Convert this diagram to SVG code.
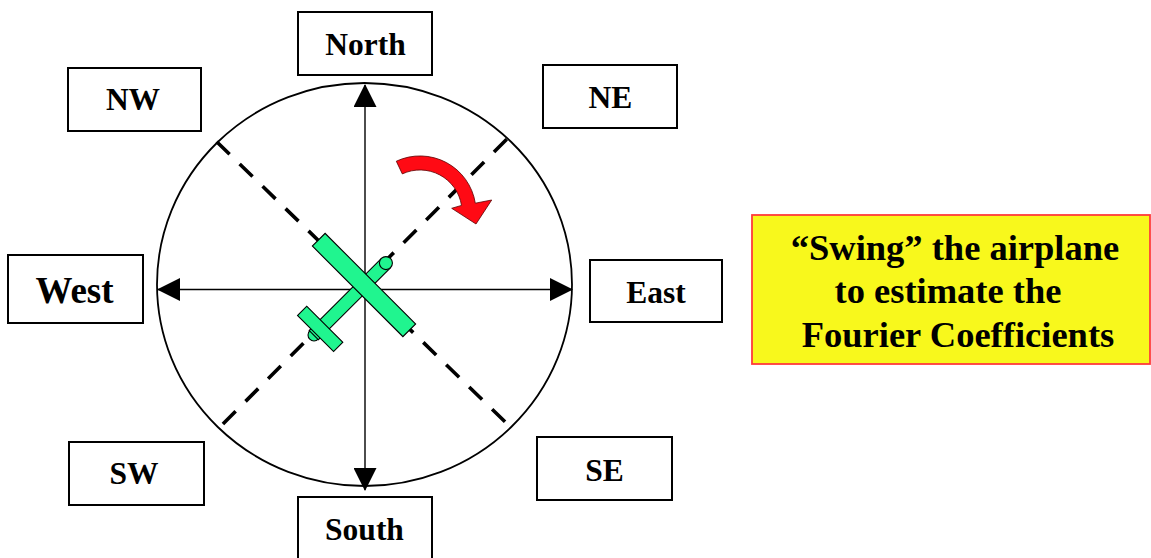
<svg xmlns="http://www.w3.org/2000/svg" width="1151" height="558" viewBox="0 0 1151 558">
  <style>
    .box { fill: #ffffff; stroke: #000000; stroke-width: 2; }
    .lbl { font-family: "Liberation Serif", "Times New Roman", serif; font-weight: bold; font-size: 31.5px; fill: #000000; text-anchor: middle; }
    .note { font-family: "Liberation Serif", "Times New Roman", serif; font-weight: bold; font-size: 36.5px; fill: #000000; text-anchor: middle; }
    .axis { stroke: #000000; stroke-width: 1.4; fill: none; }
    .dash { stroke: #000000; stroke-width: 3.6; stroke-dasharray: 18 14; fill: none; }
    .plane { fill: #20F58F; stroke: #000000; stroke-width: 1.1; }
  </style>
  <defs>
    <marker id="ah" viewBox="0 0 23 23" refX="22" refY="11.5" markerWidth="23" markerHeight="23" markerUnits="userSpaceOnUse" orient="auto-start-reverse">
      <path d="M0,0 L23,11.5 L0,23 Z" fill="#000000"/>
    </marker>
  </defs>
  <rect x="0" y="0" width="1151" height="558" fill="#ffffff"/>

  <g id="compass">
    <ellipse cx="364.5" cy="284.5" rx="207.5" ry="201.5" fill="none" stroke="#000000" stroke-width="1.8"/>
  </g>

  <g id="connectors">
    <line class="dash" x1="216.7" y1="141.7" x2="508.3" y2="425"/>
    <line class="dash" x1="506.7" y1="139.3" x2="218" y2="429"/>
    <line class="axis" x1="365" y1="490" x2="365" y2="85" marker-start="url(#ah)" marker-end="url(#ah)"/>
    <line class="axis" x1="158" y1="289.5" x2="572" y2="289.5" marker-start="url(#ah)" marker-end="url(#ah)"/>
  </g>

  <g id="airplane" transform="translate(364,285) rotate(-45)">
    <circle class="plane" cx="-70.7" cy="0" r="6"/>
    <rect class="plane" x="-71" y="-6.5" width="102" height="13"/>
    <circle class="plane" cx="31" cy="0" r="6.5"/>
    <rect class="plane" x="-68.5" y="-25.5" width="13" height="51"/>
    <rect class="plane" x="-9" y="-64" width="18" height="128"/>
  </g>

  <g id="swing-arrow">
    <path d="M396.3,161.2 A56,56 0 0 1 475.3,203.2 L491.7,200 L476,224 L451.7,208.3 L461.5,205.4 A42,42 0 0 0 402.3,173.9 Z" fill="#FF0A14" stroke="#5a0000" stroke-width="0.8"/>
  </g>

  <g id="node-north">
    <rect class="box" x="298" y="12" width="134" height="63"/>
    <text class="lbl" x="365.5" y="55">North</text>
  </g>
  <g id="node-nw">
    <rect class="box" x="68" y="68" width="133" height="63"/>
    <text class="lbl" x="133" y="110">NW</text>
  </g>
  <g id="node-ne">
    <rect class="box" x="543" y="65" width="134" height="63"/>
    <text class="lbl" x="610.5" y="108">NE</text>
  </g>
  <g id="node-west">
    <rect class="box" x="8" y="255" width="135" height="68"/>
    <text class="lbl" x="74.5" y="303" style="font-size:37px">West</text>
  </g>
  <g id="node-east">
    <rect class="box" x="590" y="260" width="132" height="62"/>
    <text class="lbl" x="656" y="303">East</text>
  </g>
  <g id="node-sw">
    <rect class="box" x="69" y="442" width="135" height="63"/>
    <text class="lbl" x="134" y="484">SW</text>
  </g>
  <g id="node-se">
    <rect class="box" x="537" y="437" width="135" height="63"/>
    <text class="lbl" x="604.5" y="481">SE</text>
  </g>
  <g id="node-south">
    <rect class="box" x="298" y="497" width="134" height="64"/>
    <text class="lbl" x="364.5" y="540">South</text>
  </g>

  <g id="node-note">
    <rect x="752" y="215" width="398" height="149" fill="#F8F81C" stroke="#FF3B3B" stroke-width="1.8"/>
    <text class="note" x="955" y="260">“Swing” the airplane</text>
    <text class="note" x="948" y="303">to estimate the</text>
    <text class="note" x="958" y="347">Fourier Coefficients</text>
  </g>
</svg>
